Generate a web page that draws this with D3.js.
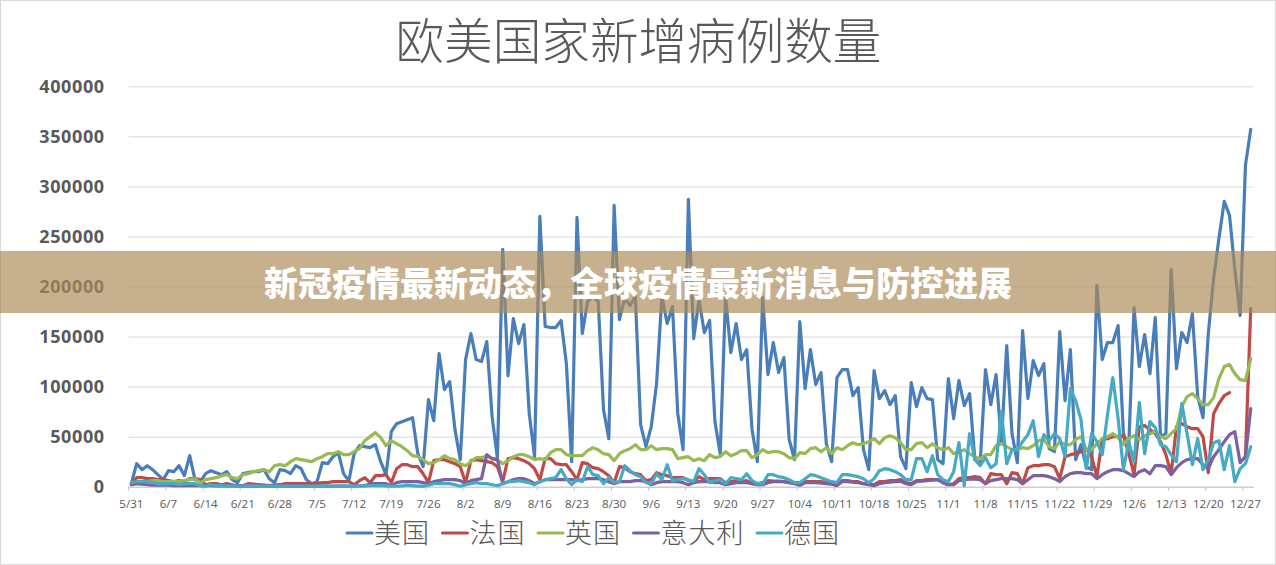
<!DOCTYPE html>
<html>
<head>
<meta charset="utf-8">
<script src="https://cdn.jsdelivr.net/npm/d3@7"></script>
<style>
  body { margin: 0; background: #fff; }
  svg { display: block; }
  text { font-family: "Open Sans", Arial, sans-serif; fill: #595959; }
  .cjk { font-family: "Noto Sans CJK SC", sans-serif; }
</style>
</head>
<body>
<svg id="chart" width="1276" height="565"></svg>
<script>
const titleText = "欧美国家新增病例数量";
const bannerText = "新冠疫情最新动态，全球疫情最新消息与防控进展";
const yTicks = [0, 50000, 100000, 150000, 200000, 250000, 300000, 350000, 400000];
// one label every 7 days
const weekLabels = ["5/31","6/7","6/14","6/21","6/28","7/5","7/12","7/19","7/26","8/2","8/9","8/16","8/23","8/30","9/6","9/13","9/20","9/27","10/4","10/11","10/18","10/25","11/1","11/8","11/15","11/22","11/29","12/6","12/13","12/20","12/27"];
const seriesNames = ["美国", "法国", "英国", "意大利", "德国"];
const seriesColors = ["#4a7ebb", "#be4b48", "#98b954", "#7d60a0", "#46aac5"];

// daily values, 7 per row, starting 5/31
const usa = [
  3000,23000,17000,21000,17000,12000,7000,
  16000,15000,21000,11000,31000,7000,5000,
  13000,16000,14000,12000,15000,7000,4000,
  13000,14000,15000,15000,17000,8000,4000,
  17000,16000,13000,21000,18000,7000,3000,
  5000,24000,23000,30000,34000,13000,6000,
  33000,41000,40000,39000,42000,25000,12000,
  55000,63000,65000,67000,69000,33000,20000,
  87000,66000,133000,97000,105000,57000,27000,
  127000,153000,127000,125000,145000,70000,28000,
  237000,111000,168000,143000,162000,73000,30000,
  270000,160000,159000,159000,166000,123000,25000,
  269000,153000,185000,190000,185000,77000,48000,
  281000,167000,188000,181000,190000,62000,40000,
  60000,103000,190000,163000,180000,73000,37000,
  287000,148000,187000,154000,166000,65000,33000,
  190000,134000,163000,127000,137000,57000,25000,
  189000,112000,144000,114000,129000,47000,27000,
  165000,98000,137000,102000,114000,43000,25000,
  109000,117000,117000,91000,99000,37000,17000,
  116000,88000,96000,82000,91000,30000,18000,
  104000,80000,99000,88000,87000,27000,23000,
  108000,68000,106000,81000,93000,27000,23000,
  117000,82000,112000,43000,141000,53000,24000,
  156000,88000,126000,111000,123000,38000,35000,
  155000,86000,137000,27000,42000,20000,17000,
  201000,127000,144000,144000,161000,53000,40000,
  179000,120000,152000,113000,169000,50000,53000,
  217000,118000,154000,144000,173000,90000,69000,
  153000,208000,248000,285000,271000,217000,171000,
  321000,357000
];
const france = [
  3000,9000,9000,8000,8000,7000,7000,
  6000,5000,6000,5000,8000,8000,7000,
  2000,3000,3000,2000,3000,2000,1000,
  1000,3000,2500,2000,1500,1000,1500,
  2000,3000,3000,3000,3000,3000,3000,
  3000,4000,4000,5000,5000,5000,5000,
  2000,6000,9000,4000,11000,11000,12000,
  4000,18000,22000,22000,20000,20000,13000,
  4000,26000,27000,27000,25000,23000,20000,
  4000,26000,27000,26000,25000,24000,20000,
  5000,28000,29000,28000,26000,23000,18000,
  7000,28000,28000,23000,22000,22000,15000,
  7000,24000,23000,19000,18000,15000,11000,
  4000,20000,19000,15000,13000,12000,6000,
  7000,14000,12000,11000,9000,9000,9000,
  6000,5000,10000,7000,8000,8000,8000,
  4000,5000,5000,5000,6000,3000,3000,
  4000,6000,5500,5500,5000,4000,4000,
  2000,5000,5000,5000,5000,4000,3000,
  1000,6000,6000,5000,5000,3000,3000,
  2000,5000,5000,6000,6000,7000,4000,
  3000,6000,6000,7000,7000,7000,4000,
  2000,3000,8000,9000,9000,10000,9000,
  3000,13000,12000,12000,3000,14000,13000,
  3000,19000,21000,21000,22000,22000,20000,
  8000,30000,32000,33000,35000,38000,30000,
  10000,47000,48000,50000,50000,51000,33000,
  12000,60000,61000,57000,53000,45000,32000,
  13000,60000,63000,60000,58000,58000,50000,
  14000,73000,83000,91000,94000,null,null,
  30000,178000
];
const uk = [
  3000,4000,5000,5000,6000,6000,5000,
  5000,5000,5000,6000,7000,8000,4000,
  7000,8000,9000,11000,12000,9000,8000,
  12000,13000,15000,16000,17000,15000,21000,
  22000,21000,25000,28000,27000,26000,25000,
  28000,30000,33000,33000,35000,32000,32000,
  35000,38000,46000,50000,54000,49000,41000,
  46000,43000,40000,36000,31000,30000,27000,
  23000,24000,27000,31000,28000,27000,23000,
  21000,25000,29000,29000,31000,28000,27000,
  23000,26000,30000,32000,32000,30000,27000,
  28000,27000,34000,37000,37000,32000,31000,
  31000,31000,36000,39000,37000,33000,32000,
  26000,33000,36000,38000,42000,37000,37000,
  41000,37000,38000,38000,37000,28000,29000,
  30000,26000,28000,26000,32000,29000,30000,
  35000,31000,33000,36000,36000,29000,32000,
  37000,34000,35000,35000,33000,29000,28000,
  34000,33000,38000,39000,35000,39000,33000,
  39000,37000,41000,44000,42000,43000,45000,
  48000,43000,49000,51000,49000,44000,37000,
  37000,43000,44000,39000,43000,39000,37000,
  39000,33000,35000,37000,33000,30000,28000,
  32000,32000,41000,43000,40000,37000,37000,
  39000,38000,41000,46000,47000,40000,38000,
  45000,42000,42000,47000,50000,37000,37000,
  43000,48000,50000,53000,49000,42000,48000,
  51000,47000,51000,53000,55000,50000,48000,
  53000,58000,80000,90000,93000,88000,82000,
  82000,89000,108000,120000,122000,113000,107000,
  106000,128000
];
const italy = [
  2000,3000,2500,2000,1500,1500,1500,
  1500,1000,1000,1000,1000,1000,1000,
  1000,1000,800,800,800,700,600,
  600,600,600,500,500,500,500,
  500,500,500,500,500,500,500,
  500,500,600,600,600,600,600,
  600,800,1000,3000,3000,3000,3000,
  1000,4000,5000,5000,5000,5000,4000,
  3000,5000,6000,7000,7000,7000,6000,
  3000,6000,7000,8000,32000,28000,27000,
  3000,5000,7000,8000,8000,6000,3000,
  5000,7000,7000,7000,7000,7000,7000,
  6000,7000,8000,8000,8000,7000,5000,
  3000,5000,5000,5000,6000,6000,5000,
  2000,4000,5000,5000,5000,5000,4000,
  2000,4000,5000,5000,5000,4000,4000,
  2000,3000,4000,4000,4000,3000,2000,
  2000,4000,5000,5000,5000,4000,3000,
  1500,4000,4000,4000,3500,3000,2500,
  1500,5000,5000,4500,4000,3000,2000,
  1000,3000,4000,4500,5000,5500,3000,
  2000,5000,5500,6000,6500,7000,4000,
  2000,2000,6000,7000,7500,7500,7000,
  3000,6000,7000,8000,8000,8000,7000,
  3000,7000,11000,11000,11000,10000,8000,
  5000,10000,13000,14000,14000,13000,13000,
  8000,12000,15000,17000,17000,16000,13000,
  10000,15000,17000,13000,21000,21000,20000,
  12000,19000,24000,27000,28000,28000,22000,
  18000,30000,37000,45000,52000,55000,24000,
  30000,78000
];
const germany = [
  4000,5000,5000,5000,4000,3000,3000,
  3000,3000,2000,3000,3000,3000,1000,
  500,2000,1000,800,800,800,700,
  600,800,800,600,500,500,500,
  500,500,500,500,500,500,500,
  500,500,500,500,500,500,500,
  500,800,800,1000,1000,1000,800,
  500,500,800,1500,1000,500,500,
  1500,3000,3000,3000,3000,2000,500,
  2000,3000,4000,3000,3000,2000,1000,
  3000,5000,5000,6000,5000,4000,2000,
  5000,7000,8000,9000,17000,8000,2000,
  7000,5000,20000,12000,11000,3000,9000,
  4000,5000,21000,16000,12000,10000,4000,
  3000,13000,7000,22000,6000,7000,8000,
  7000,5000,18000,12000,4000,6000,7000,
  3000,9000,8000,7000,13000,6000,3000,
  3000,12000,12000,10000,9000,7000,4000,
  4000,8000,12000,11000,9000,7000,5000,
  4000,12000,12000,11000,10000,8000,4000,
  8000,16000,18000,17000,15000,12000,7000,
  7000,28000,28000,15000,31000,12000,7000,
  5000,15000,44000,1000,53000,27000,21000,
  29000,19000,23000,75000,23000,37000,37000,
  45000,52000,66000,30000,52000,46000,53000,
  48000,30000,98000,86000,67000,18000,53000,
  45000,32000,72000,109000,68000,17000,45000,
  25000,84000,33000,65000,59000,42000,40000,
  32000,25000,83000,53000,22000,48000,17000,
  27000,44000,46000,17000,41000,5000,18000,
  23000,40000
];
const allSeries = [usa, france, uk, italy, germany];

const svg = d3.select("#chart");
const chartLeft = 128.7, chartRight = 1253.4, chartTop = 86.3, chartBottom = 486.7;

const x = d3.scaleBand().domain(d3.range(usa.length)).range([chartLeft, chartRight]).padding(0);
const y = d3.scaleLinear().domain([0, 400000]).range([chartBottom, chartTop]);

// frame of the pasted chart
svg.append("rect").attr("x", 0.5).attr("y", 0.5).attr("width", 1275).attr("height", 564)
  .attr("fill", "#fff").attr("stroke", "#d9d9d9");

svg.append("text").attr("class", "cjk")
  .attr("x", 638.5).attr("y", 59)
  .attr("text-anchor", "middle")
  .style("font-size", "48.6px").style("font-weight", 300)
  .text(titleText);

// y axis with gridlines
const yAxis = svg.append("g").attr("transform", "translate(" + chartLeft + ",0)")
  .call(d3.axisLeft(y).tickValues(yTicks).tickSize(-(chartRight - chartLeft)).tickPadding(24).tickFormat(d3.format("d")));
yAxis.select(".domain").remove();
yAxis.selectAll("line").attr("stroke", "#d9d9d9").attr("stroke-width", 1);
yAxis.selectAll("text").style("font-size", "18px").style("font-weight", "bold").style("letter-spacing", "0.6px").style("fill", "#595959").style("font-family", "\"Open Sans\", sans-serif");

// x axis, tick marks sit between the days
const xAxis = svg.append("g").attr("transform", "translate(0," + chartBottom + ")")
  .call(d3.axisBottom(x)
    .tickValues(weekLabels.map(function(d, k) { return k * 7; }))
    .tickFormat(function(d) { return weekLabels[d / 7]; })
    .tickSize(4).tickPadding(9).tickSizeOuter(0));
xAxis.select(".domain").attr("stroke", "#c4c4c4");
xAxis.selectAll("line").attr("stroke", "#c4c4c4")
  .attr("x1", -x.step() / 2).attr("x2", -x.step() / 2);
xAxis.selectAll("text").style("font-size", "11.6px").style("fill", "#595959").style("font-family", "\"Open Sans\", sans-serif");

const line = d3.line()
  .defined(function(d) { return d !== null; })
  .x(function(d, i) { return x(i) + x.bandwidth() / 2; })
  .y(function(d) { return y(d); });

svg.append("g").selectAll("path").data(allSeries).enter().append("path")
  .attr("d", line)
  .attr("fill", "none")
  .attr("stroke", function(d, i) { return seriesColors[i]; })
  .attr("stroke-width", 3.2)
  .attr("stroke-linejoin", "round")
  .attr("stroke-linecap", "round");

// legend
const keyWidth = 25, charWidth = 28, itemGap = 14.5;
var legendX = 347;
seriesNames.forEach(function(name, i) {
  svg.append("line")
    .attr("x1", legendX).attr("x2", legendX + keyWidth)
    .attr("y1", 533).attr("y2", 533)
    .attr("stroke", seriesColors[i]).attr("stroke-width", 3).attr("stroke-linecap", "round");
  svg.append("text").attr("class", "cjk")
    .attr("x", legendX + keyWidth + 2).attr("y", 543)
    .style("font-size", "27px").style("font-weight", 300)
    .style("letter-spacing", "1px")
    .text(name);
  legendX += keyWidth + name.length * charWidth + itemGap;
});

// banner over the chart
svg.append("rect").attr("x", 0).attr("y", 251).attr("width", 1276).attr("height", 62)
  .attr("fill", "#ab8b57").attr("fill-opacity", 0.68);
svg.append("text").attr("class", "cjk")
  .attr("x", 638).attr("y", 296)
  .attr("text-anchor", "middle")
  .style("font-size", "34px").style("font-weight", 900).style("fill", "#fff")
  .text(bannerText);
</script>
</body>
</html>
